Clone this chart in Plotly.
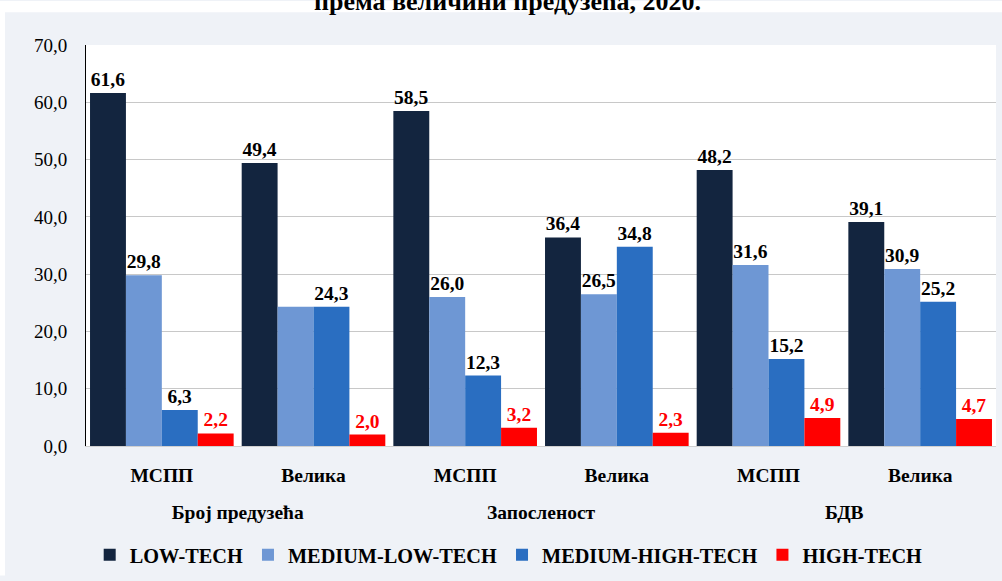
import plotly.graph_objects as go

# categories
groups = ["Број предузећа", "Број предузећа", "Запосленост", "Запосленост", "БДВ", "БДВ"]
sizes = ["МСПП", "Велика", "МСПП", "Велика", "МСПП", "Велика"]

# series values (%)
low_tech = [61.6, 49.4, 58.5, 36.4, 48.2, 39.1]
medium_low_tech = [29.8, 24.3, 26.0, 26.5, 31.6, 30.9]
medium_high_tech = [6.3, 24.3, 12.3, 34.8, 15.2, 25.2]
high_tech = [2.2, 2.0, 3.2, 2.3, 4.9, 4.7]

series_names = ["LOW-TECH", "MEDIUM-LOW-TECH", "MEDIUM-HIGH-TECH", "HIGH-TECH"]
series_values = [low_tech, medium_low_tech, medium_high_tech, high_tech]
colors = ["#13253f", "#6e97d4", "#2a6ec1", "#ff0000"]
label_colors = ["#000000", "#000000", "#000000", "#ff0000"]

y_ticks = [0, 10, 20, 30, 40, 50, 60, 70]

title_text = "према величини предузећа, 2020."

SERIF = "Liberation Serif"

# plot area in pixels (used for paper-coordinate placement)
PL, PR, PT, PB = 86, 996, 44.5, 450
PW, PH = PR - PL, PB - PT


def fmt(v):
    return ("%.1f" % v).replace(".", ",")


def px_x(x):
    return (x - PL) / PW


def px_y(y):
    return (PB - y) / PH


fig = go.Figure()
for name, vals, col, lcol in zip(series_names, series_values, colors, label_colors):
    labels = [fmt(v) for v in vals]
    if name == "MEDIUM-LOW-TECH":
        # the two 24,3 labels share one label in the original
        labels[1] = ""
    fig.add_trace(go.Bar(
        name=name,
        x=[["<br>" + g for g in groups], sizes],
        y=vals,
        marker=dict(color=col, line=dict(width=0)),
        text=labels,
        textposition="outside",
        cliponaxis=False,
        textfont=dict(family=SERIF, size=19.5, color=lcol, weight="bold"),
    ))

# white strips outside the light chart frame
fig.add_shape(type="rect", xref="paper", yref="paper",
              x0=px_x(0), x1=px_x(1002), y0=px_y(11.5), y1=px_y(0),
              fillcolor="white", line=dict(width=0), layer="above")
fig.add_shape(type="rect", xref="paper", yref="paper",
              x0=px_x(0), x1=px_x(5), y0=px_y(581), y1=px_y(0),
              fillcolor="white", line=dict(width=0), layer="above")

# title, cut off at the top edge as in the original
fig.add_annotation(text=title_text, xref="paper", yref="paper",
                   x=px_x(507.5), y=px_y(1), xanchor="center", yanchor="middle",
                   showarrow=False,
                   font=dict(family=SERIF, size=26, color="black", weight="bold"))

fig.update_layout(
    width=1002,
    height=581,
    margin=dict(l=PL, r=1002 - PR, t=PT, b=581 - PB),
    paper_bgcolor="#eff2f7",
    plot_bgcolor="white",
    separators=", ",
    barmode="group",
    bargap=0.053,
    bargroupgap=0,
    font=dict(family=SERIF, color="black"),
    legend=dict(orientation="h", x=0.4645, xanchor="center", y=-0.222, yanchor="top",
                font=dict(family=SERIF, size=20.3, color="black", weight="bold"),
                bgcolor="rgba(0,0,0,0)"),
    showlegend=True,
)

fig.update_xaxes(
    type="multicategory",
    automargin=False,
    showdividers=False,
    showline=True,
    linecolor="#d0d0d0",
    linewidth=1,
    ticks="",
    ticklabelstandoff=12,
    tickfont=dict(family=SERIF, size=19.5, color="black", weight="bold"),
    showgrid=False,
)
fig.update_yaxes(
    automargin=False,
    range=[0, 70],
    tickvals=y_ticks,
    tickformat=".1f",
    showgrid=True,
    gridcolor="#c8c8c8",
    gridwidth=1,
    zeroline=False,
    showline=True,
    linecolor="black",
    linewidth=1,
    ticks="",
    ticklabelstandoff=14,
    tickfont=dict(family=SERIF, size=19, color="black"),
)

# drop the default page margin so the figure fills the window
fig.write_html("out.html", config={"displayModeBar": False},
               post_script="document.body.style.margin='0';")
